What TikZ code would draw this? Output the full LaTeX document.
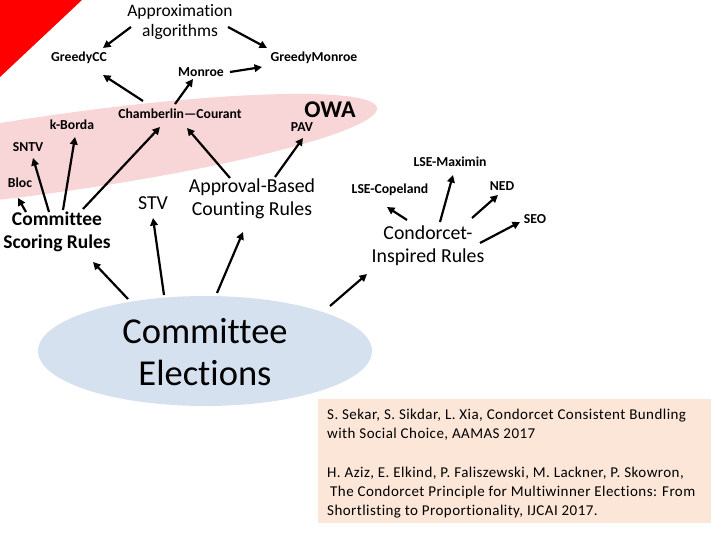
\documentclass[tikz,border=0pt]{standalone}
\usepackage{fontspec}
\setmainfont{Carlito}[Ligatures=NoCommon]
\newfontfamily\reffont{Carlito}[Ligatures=NoCommon,LetterSpace=3]
\usetikzlibrary{arrows.meta,calc,shapes.geometric}
\definecolor{pinkfill}{HTML}{F8D5D6}
\definecolor{bluefill}{HTML}{D6E1F0}
\definecolor{boxfill}{HTML}{FCE6D8}
\tikzset{
  arr/.style={line width=2.2pt, -{Triangle[length=7.5pt,width=7.5pt]}},
  lbl/.style={font=\bfseries\fontsize{13.7}{16}\selectfont, inner sep=0pt},
  mid/.style={font=\fontsize{19.8}{23}\selectfont, align=center, inner sep=0pt},
  midb/.style={font=\bfseries\fontsize{19.5}{23}\selectfont, align=center, inner sep=0pt},
}
\begin{document}
\begin{tikzpicture}[x=1pt,y=-1pt]
\useasboundingbox (0,0) rectangle (720,540);
% pink region (clipped at the left edge)
\begin{scope}
  \clip (0,0) rectangle (720,540);
  \fill[pinkfill] plot[domain=0:360,samples=150,smooth] ({60+317*cos(\x)},{153-44.4*cos(\x)+39*sin(\x)}) -- cycle;
\end{scope}
% red corner
\fill[red] (0,0) -- (82,0) -- (0,77) -- cycle;
% blue ellipse
\node[ellipse, fill=bluefill, minimum width=334pt, minimum height=110pt, inner sep=0pt] (ceshape) at (205,351) {};
\node[font=\fontsize{36.5}{42}\selectfont, align=center, inner sep=0pt] (ce) at (205,352) {Committee\\Elections};
% reference box
\node[fill=boxfill, minimum width=393pt, minimum height=124pt, inner sep=0pt, anchor=north west] (refbox) at (318,399) {};
\node[font=\reffont\fontsize{15}{19.3}\selectfont, align=left, inner sep=0pt, anchor=north west] (reftext) at (327,408.5)
  {S. Sekar, S. Sikdar, L. Xia, Condorcet Consistent Bundling\\
   with Social Choice, AAMAS 2017\\[19.3pt]
   H. Aziz, E. Elkind, P. Faliszewski, M. Lackner, P. Skowron,\\
   \hspace*{3pt}The Condorcet Principle for Multiwinner Elections: From\\
   Shortlisting to Proportionality, IJCAI 2017.};
% labels
\node[font=\fontsize{17.5}{20}\selectfont, align=center, inner sep=0pt] (approx) at (180,22) {Approximation\\algorithms};
\node[lbl] (gcc) at (79,58) {GreedyCC};
\node[lbl] (gmon) at (314,58) {GreedyMonroe};
\node[lbl] (mon) at (201,72) {Monroe};
\node[lbl] (cc) at (180,114) {Chamberlin—Courant};
\node[font=\bfseries\fontsize{24}{28}\selectfont, inner sep=0pt] (owa) at (330,110) {OWA};
\node[lbl] (pav) at (302,127) {PAV};
\node[lbl] (kb) at (72,125) {k-Borda};
\node[lbl] (sntv) at (28,147) {SNTV};
\node[lbl] (bloc) at (20,183) {Bloc};
\node[midb] (csr) at (57,232) {Committee\\Scoring Rules};
\node[mid] (stv) at (153,203) {STV};
\node[mid] (abcr) at (252,199) {Approval-Based\\Counting Rules};
\node[lbl] (lmax) at (450,162) {LSE-Maximin};
\node[lbl] (lcop) at (390,190) {LSE-Copeland};
\node[lbl] (ned) at (502,186) {NED};
\node[lbl] (seo) at (535,219) {SEO};
\node[mid] (cir) at (428,246) {Condorcet-\\Inspired Rules};
% arrows
\draw[arr] ($(approx)+(-49,5)$) -- ($(gcc)+(24,-10)$);
\draw[arr] ($(approx)+(48,5)$) -- ($(gmon)+(-47,-10)$);
\draw[arr] ($(mon)+(29,0)$) -- ($(gmon)+(-52,9)$);
\draw[arr] ($(cc)+(-37,-13)$) -- ($(gcc)+(24,17)$);
\draw[arr] ($(cc)+(-5,-10)$) -- ($(mon)+(-8,7)$);
\draw[arr] ($(csr)+(-8,-20)$) -- ($(sntv)+(5,11)$);
\draw[arr] ($(csr)+(6,-22)$) -- ($(kb)+(3,12)$);
\draw[arr] ($(csr)+(26,-23)$) -- ($(cc)+(-20,13)$);
\draw[arr] ($(csr)+(-31,-20)$) -- ($(bloc)+(-2,15)$);
\draw[arr] ($(abcr)+(-22,-21)$) -- ($(cc)+(7,14)$);
\draw[arr] ($(abcr)+(23,-22)$) -- ($(pav)+(1,11)$);
\draw[arr] ($(ce)+(-77,-53)$) -- ($(csr)+(36,30)$);
\draw[arr] ($(ce)+(-41,-57)$) -- ($(stv)+(0,15)$);
\draw[arr] ($(ce)+(12,-59)$) -- ($(abcr)+(-9,33)$);
\draw[arr] ($(ce)+(125,-46)$) -- ($(cir)+(-61,28)$);
\draw[arr] ($(cir)+(-21,-26)$) -- ($(lcop)+(-3,17)$);
\draw[arr] ($(cir)+(12,-24)$) -- ($(lmax)+(3,13)$);
\draw[arr] ($(cir)+(44,-28)$) -- ($(ned)+(-4,9)$);
\draw[arr] ($(cir)+(52,-3)$) -- ($(seo)+(-15,3)$);
\end{tikzpicture}
\end{document}
